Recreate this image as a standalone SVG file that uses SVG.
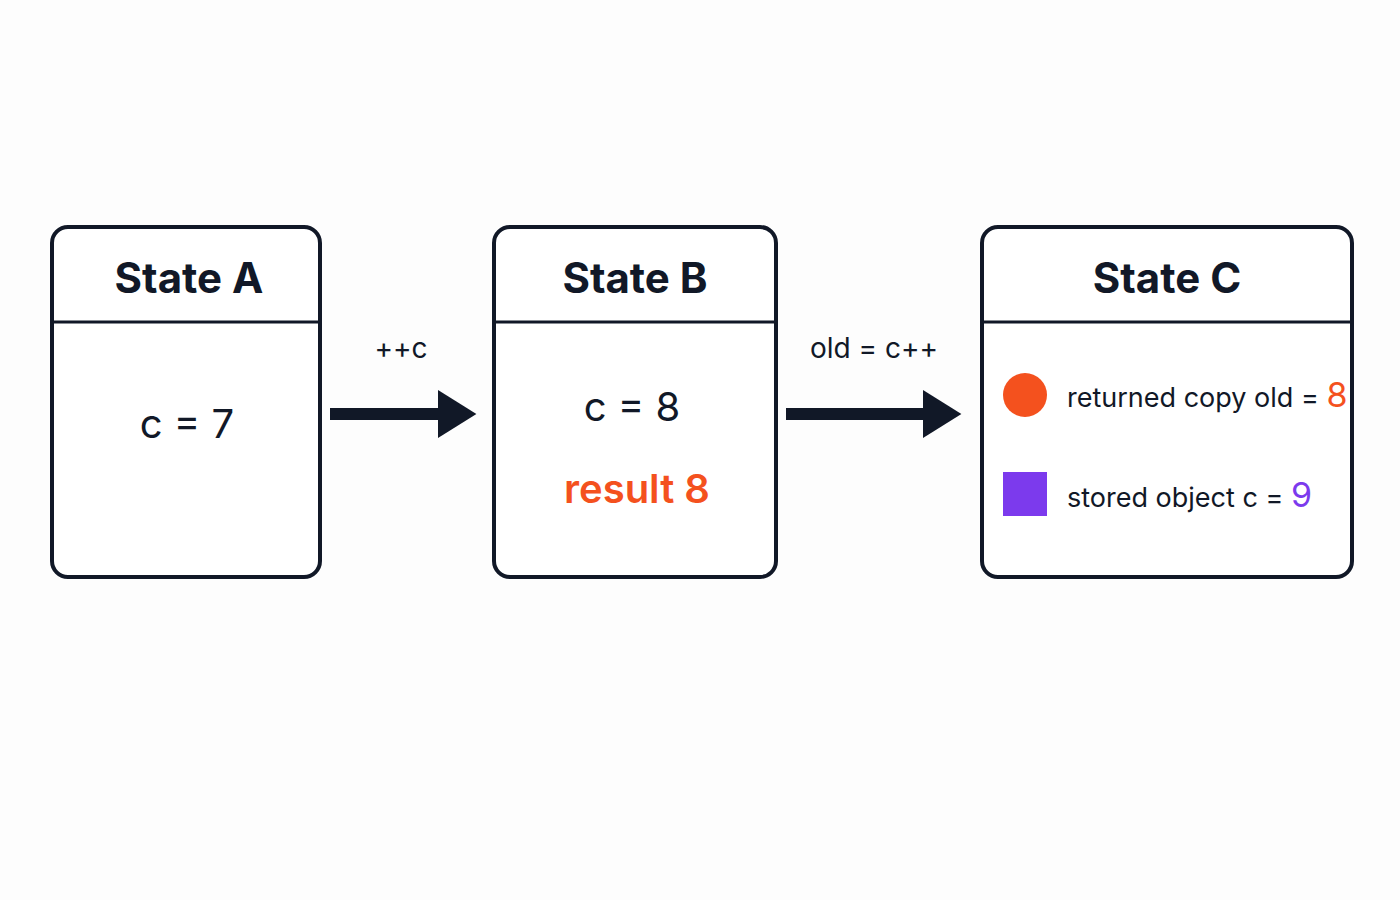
<svg xmlns="http://www.w3.org/2000/svg" width="1400" height="900" viewBox="0 0 1400 900">
<style>
.box{fill:#fff;stroke:#111827;stroke-width:4}
.div{stroke:#111827;stroke-width:3}
.t{font-family:Inter,"Liberation Sans",sans-serif;fill:#111827}
.h{font-size:42px;font-weight:700}
.v{font-size:40px}
.l{font-size:28px}
.s{font-size:27px}
.conn{stroke:#111827;stroke-width:12}
</style>
<defs><marker id="ah" markerWidth="4" markerHeight="4" refX="1" refY="2" orient="auto"><path d="M0,0 L3.2,2 L0,4 Z" fill="#111827"/></marker></defs>
<rect width="1400" height="900" fill="#fdfdfd"/>
<g id="stateA"><rect class="box" x="52" y="227" width="268" height="350" rx="16"/><line class="div" x1="52" y1="322" x2="320" y2="322"/>
<text class="t h" x="189" y="293" text-anchor="middle">State A</text>
<text class="t v" x="187" y="438" text-anchor="middle">c = 7</text></g>
<g id="stateB"><rect class="box" x="494" y="227" width="282" height="350" rx="16"/><line class="div" x1="494" y1="322" x2="776" y2="322"/>
<text class="t h" x="635" y="293" text-anchor="middle">State B</text>
<text class="t v" x="632" y="421" text-anchor="middle">c = 8</text>
<text class="t v" x="637" y="503" text-anchor="middle" style="fill:#f4511e;font-weight:600">result  8</text></g>
<g id="stateC"><rect class="box" x="982" y="227" width="370" height="350" rx="16"/><line class="div" x1="982" y1="322" x2="1352" y2="322"/>
<text class="t h" x="1167" y="293" text-anchor="middle">State C</text>
<circle cx="1025" cy="395" r="22" fill="#f4511e"/>
<text class="t s" x="1067" y="407">returned copy old = <tspan style="fill:#f4511e;font-size:34px">8</tspan></text>
<rect x="1003" y="472" width="44" height="44" fill="#7c3aed"/>
<text class="t s" x="1067" y="507">stored object c = <tspan style="fill:#7c3aed;font-size:34px">9</tspan></text></g>
<g id="connectors">
<line class="conn" x1="330" y1="414" x2="450" y2="414" marker-end="url(#ah)"/>
<text class="t l" x="401" y="358" text-anchor="middle">++c</text>
<line class="conn" x1="786" y1="414" x2="935" y2="414" marker-end="url(#ah)"/>
<text class="t l" x="874" y="358" text-anchor="middle">old = c++</text>
</g>
</svg>
